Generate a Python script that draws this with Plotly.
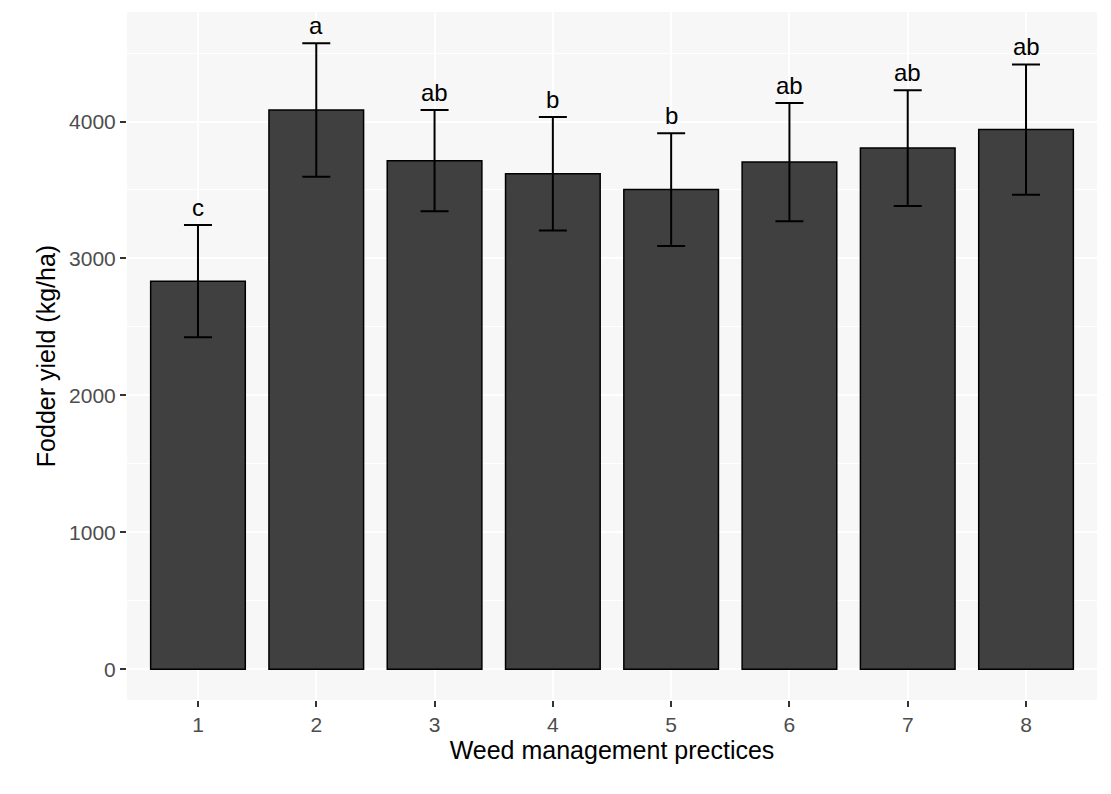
import plotly.graph_objects as go

# treatments, mean fodder yield and standard error
treatments = [1, 2, 3, 4, 5, 6, 7, 8]
yield_mean = [2834, 4084, 3714, 3619, 3503, 3704, 3806, 3941]
yield_se = [410, 487, 370, 415, 412, 432, 423, 476]
groups = ["c", "a", "ab", "b", "b", "ab", "ab", "ab"]

font_family = "Liberation Sans, Arial, sans-serif"

fig = go.Figure()

fig.add_trace(go.Bar(
    x=treatments,
    y=yield_mean,
    width=0.8,
    marker=dict(color="#404040", line=dict(color="black", width=1.5)),
    error_y=dict(type="data", array=yield_se, visible=True,
                 color="black", thickness=2, width=14),
    showlegend=False,
    hoverinfo="x+y",
))

# significance letters just above the upper whiskers
for t, m, s, g in zip(treatments, yield_mean, yield_se, groups):
    fig.add_annotation(
        x=t, y=m + s, text=g, showarrow=False,
        xanchor="center", yanchor="bottom", yshift=2,
        font=dict(family=font_family, size=24, color="black"),
    )

fig.update_layout(
    width=1111,
    height=794,
    margin=dict(l=119, r=22, t=4, b=102),
    paper_bgcolor="white",
    plot_bgcolor="#F7F7F7",
    font=dict(family=font_family, color="black"),
    xaxis=dict(
        range=[0.4, 8.6],
        tickmode="array",
        tickvals=treatments,
        ticktext=[str(t) for t in treatments],
        showgrid=True, gridcolor="white", gridwidth=1.5,
        zeroline=False, showline=False,
        ticks="outside", ticklen=6, tickwidth=1.5, tickcolor="#333333",
        tickfont=dict(size=21, color="#4D4D4D"),
        title=dict(text="Weed management prectices",
                   font=dict(size=25, color="black"), standoff=6),
    ),
    yaxis=dict(
        range=[-225, 4800],
        tickmode="array",
        tickvals=[0, 1000, 2000, 3000, 4000],
        showgrid=True, gridcolor="white", gridwidth=1.8,
        minor=dict(dtick=500, tick0=0, showgrid=True,
                   gridcolor="white", gridwidth=0.8),
        zeroline=False, showline=False,
        ticks="outside", ticklen=6, tickwidth=1.5, tickcolor="#333333",
        tickfont=dict(size=21, color="#4D4D4D"),
        title=dict(text="Fodder yield (kg/ha)",
                   font=dict(size=25, color="black"), standoff=6),
    ),
)

fig.write_html("out.html")
